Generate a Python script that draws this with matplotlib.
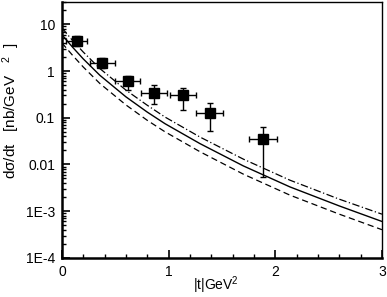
import matplotlib
matplotlib.use("Agg")
import matplotlib.pyplot as plt
from matplotlib.ticker import FixedLocator, FixedFormatter, LogLocator, NullFormatter, MultipleLocator

plt.rcParams['font.family'] = ['Liberation Sans', 'DejaVu Sans']
plt.rcParams['mathtext.fontset'] = 'custom'
plt.rcParams['mathtext.rm'] = 'Liberation Sans'
plt.rcParams['mathtext.it'] = 'Liberation Sans'

# Data points
t_data = [0.138, 0.38, 0.616, 0.862, 1.137, 1.384, 1.884]
y_data = [4.4, 1.5, 0.6, 0.344, 0.30, 0.129, 0.0356]
t_err = [0.10, 0.12, 0.12, 0.12, 0.12, 0.13, 0.13]
y_err_lo = [0.9, 0.35, 0.2, 0.144, 0.15, 0.078, 0.0302]
y_err_hi = [1.2, 0.45, 0.2, 0.156, 0.14, 0.077, 0.0274]

# Theory curves
t_curve = [0.0, 0.1, 0.2, 0.356, 0.6, 0.8, 0.966, 1.294, 1.7, 2.137, 2.6, 3.0]
solid = [6.0, 3.24, 1.82, 0.81, 0.28, 0.132, 0.0746, 0.0279, 0.0093, 0.0033, 0.00129, 0.00060]
dashdot = [8.4, 4.5, 2.55, 1.13, 0.39, 0.185, 0.1035, 0.0386, 0.013, 0.0046, 0.0018, 0.00086]
dashed = [4.0, 2.17, 1.22, 0.54, 0.188, 0.088, 0.050, 0.0187, 0.0062, 0.0022, 0.00086, 0.00040]

ytick_vals = [1e-4, 1e-3, 1e-2, 1e-1, 1, 10]
ytick_labels = ["1E-4", "1E-3", "0.01", "0.1", "1", "10"]
xtick_vals = [0, 1, 2, 3]
xtick_labels = ["0", "1", "2", "3"]

fig = plt.figure(figsize=(3.87, 2.97), dpi=100)
ax = fig.add_axes([0.160, 0.132, 0.827, 0.861])

ax.plot(t_curve, solid, color='black', lw=1.0, ls='-')
ax.plot(t_curve, dashdot, color='black', lw=0.9, ls=(0, (6, 2, 1, 2)))
ax.plot(t_curve, dashed, color='black', lw=0.9, ls=(0, (5, 3)))

ax.errorbar(t_data, y_data, xerr=t_err, yerr=[y_err_lo, y_err_hi], fmt='s',
            color='black', ms=7, elinewidth=1.0, capsize=2.5, capthick=1.0)

ax.set_yscale('log')
ax.set_xlim(0, 3)
ax.set_ylim(1e-4, 30)

ax.yaxis.set_major_locator(FixedLocator(ytick_vals))
ax.yaxis.set_major_formatter(FixedFormatter(ytick_labels))
ax.yaxis.set_minor_locator(LogLocator(base=10, subs=[2, 3, 4, 5, 6, 7, 8, 9]))
ax.yaxis.set_minor_formatter(NullFormatter())
ax.xaxis.set_major_locator(FixedLocator(xtick_vals))
ax.xaxis.set_major_formatter(FixedFormatter(xtick_labels))
ax.xaxis.set_minor_locator(MultipleLocator(0.2))

ax.tick_params(which='both', direction='in', labelsize=10, top=False, right=False)
ax.tick_params(which='major', length=6, width=1.2, pad=5)
ax.tick_params(which='minor', length=3, width=1.0)

for s in ['left', 'bottom']:
    ax.spines[s].set_linewidth(1.8)
for s in ['top', 'right']:
    ax.spines[s].set_linewidth(1.0)

ax.set_ylabel(r"d$\sigma$/dt   [nb/GeV   $^2$  ]", fontsize=11)
ax.yaxis.set_label_coords(-0.125, 0.575)
ax.set_xlabel(r"|t|GeV$^2$", fontsize=10)
ax.xaxis.set_label_coords(0.48, -0.065)

fig.savefig("out.png", dpi=100)
